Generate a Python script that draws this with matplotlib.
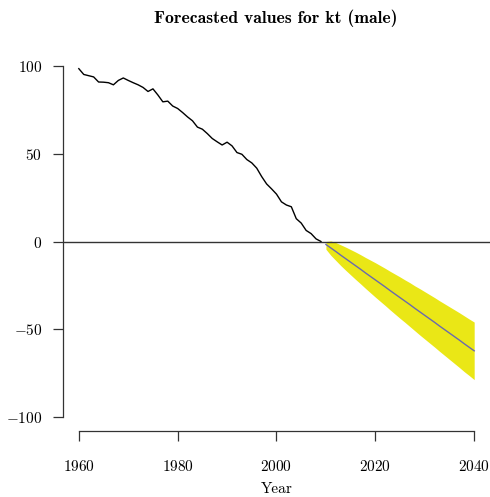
import matplotlib
matplotlib.use("Agg")
import matplotlib.pyplot as plt

plt.rcParams['mathtext.fontset'] = 'cm'
plt.rcParams['font.family'] = ['cmr10', 'DejaVu Serif']
plt.rcParams['axes.unicode_minus'] = False

hist_years = list(range(1960, 2010))
hist_kt = [98.5, 95.2, 94.5, 93.8, 90.9, 90.8, 90.5, 89.3, 91.8, 93.2,
           91.8, 90.5, 89.3, 87.8, 85.5, 87.0, 83.5, 79.6, 80.0, 77.2,
           75.8, 73.5, 71.0, 68.8, 65.2, 64.0, 61.5, 58.7, 56.8, 55.0,
           56.6, 54.5, 50.7, 49.7, 46.7, 44.8, 41.8, 37.0, 32.8, 30.0,
           27.0, 22.6, 20.8, 19.8, 13.0, 10.5, 6.3, 4.5, 1.5, 0.0]

fc_years = list(range(2010, 2041))
fc_mean = [-1.7, -3.7, -5.7, -7.8, -9.8, -11.8, -13.8, -15.8, -17.9, -19.9,
           -21.9, -23.9, -25.9, -28.0, -30.0, -32.0, -34.0, -36.0, -38.1, -40.1,
           -42.1, -44.1, -46.1, -48.2, -50.2, -52.2, -54.2, -56.2, -58.3, -60.3,
           -62.3]
fc_upper = [0.0, 0.3, -0.6, -1.9, -3.2, -4.6, -6.0, -7.5, -9.1, -10.6,
            -12.1, -13.7, -15.3, -17.0, -18.6, -20.2, -21.9, -23.5, -25.3, -26.9,
            -28.6, -30.3, -32.0, -33.8, -35.5, -37.2, -38.9, -40.6, -42.4, -44.2,
            -45.9]
fc_lower = [-4.4, -7.9, -10.8, -13.7, -16.4, -19.0, -21.6, -24.1, -26.7, -29.2,
            -31.7, -34.1, -36.5, -39.0, -41.4, -43.8, -46.1, -48.5, -50.9, -53.3,
            -55.6, -57.9, -60.2, -62.6, -64.9, -67.2, -69.5, -71.8, -74.2, -76.4,
            -78.7]

x_ticks = [1960, 1980, 2000, 2020, 2040]
y_ticks = [-100, -50, 0, 50, 100]

fig = plt.figure(figsize=(4.90, 4.97), dpi=100)
ax = fig.add_axes([63/490, 66/497, 427/490, 379/497])

ax.fill_between(fc_years, fc_lower, fc_upper, color='#EAE716', linewidth=0)
ax.plot(fc_years, fc_mean, color='#6A6AAE', linewidth=1.0)
ax.plot(hist_years, hist_kt, color='black', linewidth=1.0)
ax.axhline(0, color='#333333', linewidth=1.0)

ax.set_xlim(1956.8, 2043.2)
ax.set_ylim(-108, 108)

for s in ['top', 'right']:
    ax.spines[s].set_visible(False)
ax.spines['left'].set_bounds(-100, 100)
ax.spines['bottom'].set_bounds(1960, 2040)
for s in ['left', 'bottom']:
    ax.spines[s].set_linewidth(0.9)
    ax.spines[s].set_color('#333333')

ax.set_xticks(x_ticks)
ax.set_xticklabels([f'${v}$' for v in x_ticks], fontsize=11)
ax.set_yticks(y_ticks)
ax.set_yticklabels([f'${v}$' for v in y_ticks], fontsize=11)
ax.tick_params(length=7, width=0.9, color='#333333', pad=13)
ax.tick_params(axis='y', pad=8)

fig.text(277/490, 1 - 489/497, 'Year', ha='center', va='center', fontsize=11)
fig.text(276/490, 1 - 18/497, 'Forecasted values for kt (male)',
         ha='center', va='center', fontsize=12.7, family=['cmb10', 'DejaVu Serif'])

fig.savefig('out.png', dpi=100)
